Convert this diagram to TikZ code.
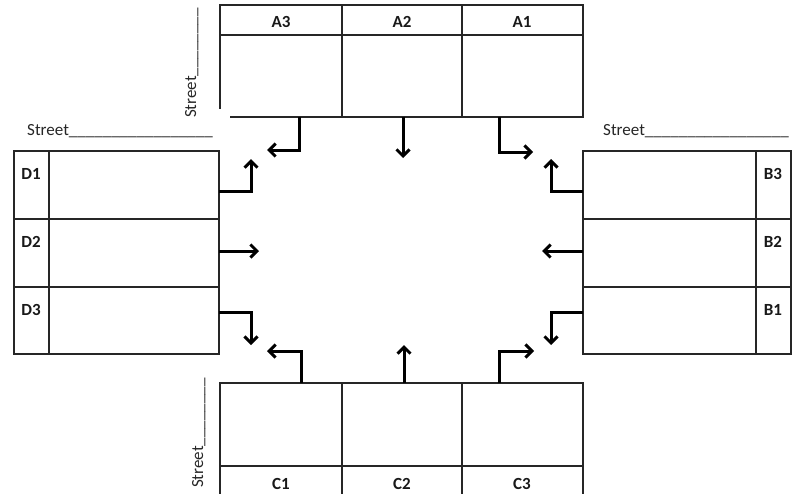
\documentclass[tikz,border=0pt]{standalone}
\usepackage{fontspec}
\setmainfont{Carlito}
\usetikzlibrary{arrows.meta}

\begin{document}
\begin{tikzpicture}[x=1pt, y=-1pt,
  frame/.style={draw=black!85, line width=1.3pt},
  sz/.style 2 args={minimum width=#1, minimum height=#2},
  slot/.style={inner sep=0pt, outer sep=0pt, anchor=north west},
  cell/.style={slot, frame},
  lbl/.style={font=\bfseries\fontsize{17}{20}\selectfont, text=black!90, inner sep=0pt},
  street/.style={font=\fontsize{17}{20}\selectfont, text=black!85, inner sep=0pt},
  arr/.style={line width=3pt, line join=miter,
    -{Straight Barb[length=6.5pt, width=13pt]}}
]
\useasboundingbox (0,0) rectangle (794,493);
\clip (0,0) rectangle (794,493);

% ---- North block: A3 A2 A1 ----
\node[cell, sz={122}{30}] (a3h) at (220,5) {};
\node[cell, sz={120}{30}] (a2h) at (342,5) {};
\node[cell, sz={121}{30}] (a1h) at (462,5) {};
\node[slot, sz={122}{82}] (a3) at (220,35) {};
\node[slot, sz={120}{82}] (a2) at (342,35) {};
\node[slot, sz={121}{82}] (a1) at (462,35) {};
\draw[frame] (a3.north west) -- ([yshift=8pt]a3.south west);
\draw[frame] ([xshift=10pt]a3.south west) -- (a1.south east) -- (a1.north east);
\draw[frame] (a3.north east) -- (a3.south east)
             (a2.north east) -- (a2.south east);
\node[lbl] (a3t) at (281,22) {A3};
\node[lbl] (a2t) at (402,22) {A2};
\node[lbl] (a1t) at (522,22) {A1};

% ---- South block: C1 C2 C3 ----
\node[cell, sz={122}{83}] (c1) at (220,383) {};
\node[cell, sz={120}{83}] (c2) at (342,383) {};
\node[cell, sz={121}{83}] (c3) at (462,383) {};
\node[cell, sz={122}{40}] (c1h) at (220,466) {};
\node[cell, sz={120}{40}] (c2h) at (342,466) {};
\node[cell, sz={121}{40}] (c3h) at (462,466) {};
\node[lbl] (c1t) at (281,484) {C1};
\node[lbl] (c2t) at (402,484) {C2};
\node[lbl] (c3t) at (522,484) {C3};

% ---- West block: D1 D2 D3 ----
\node[cell, sz={35}{68}]  (d1h) at (14,151) {};
\node[cell, sz={170}{68}] (d1)  at (49,151) {};
\node[cell, sz={35}{68}]  (d2h) at (14,219) {};
\node[cell, sz={170}{68}] (d2)  at (49,219) {};
\node[cell, sz={35}{67}]  (d3h) at (14,287) {};
\node[cell, sz={170}{67}] (d3)  at (49,287) {};
\node[lbl] (d1t) at (31,174) {D1};
\node[lbl] (d2t) at (31,242) {D2};
\node[lbl] (d3t) at (31,310) {D3};

% ---- East block: B3 B2 B1 ----
\node[cell, sz={173}{68}] (b3)  at (583,151) {};
\node[cell, sz={35}{68}]  (b3h) at (756,151) {};
\node[cell, sz={173}{68}] (b2)  at (583,219) {};
\node[cell, sz={35}{68}]  (b2h) at (756,219) {};
\node[cell, sz={173}{67}] (b1)  at (583,287) {};
\node[cell, sz={35}{67}]  (b1h) at (756,287) {};
\node[lbl] (b3t) at (773,174) {B3};
\node[lbl] (b2t) at (773,242) {B2};
\node[lbl] (b1t) at (773,310) {B1};

% ---- Street name blanks ----
\node[street, anchor=base west] (sW) at (27,135)
  {Street\_\_\_\_\_\_\_\_\_\_\_\_\_\_\_\_\_};
\node[street, anchor=base west] (sE) at (603,135)
  {Street\_\_\_\_\_\_\_\_\_\_\_\_\_\_\_\_\_};
\node[street, rotate=90, anchor=base west] (sN) at (196,118)
  {Street\_\_\_\_\_\_\_\_};
\node[street, rotate=90, anchor=base west] (sS) at (203,488)
  {Street\_\_\_\_\_\_\_\_};

% ---- Turning movements ----
\coordinate (tA3) at (267,150);
\coordinate (tA2) at (403,158);
\coordinate (tA1) at (533,152);
\coordinate (tC1) at (267,351);
\coordinate (tC2) at (404,345);
\coordinate (tC3) at (534,351);
\coordinate (tD1) at (251,159);
\coordinate (tD2) at (259,251);
\coordinate (tD3) at (251,345);
\coordinate (tB3) at (551,159);
\coordinate (tB2) at (542,251);
\coordinate (tB1) at (551,345);

\draw[arr] ([xshift=79pt]a3.south west) |- (tA3);
\draw[arr] (tA2 |- a2.south) -- (tA2);
\draw[arr] ([xshift=37pt]a1.south west) |- (tA1);

\draw[arr] ([xshift=81pt]c1.north west) |- (tC1);
\draw[arr] (tC2 |- c2.north) -- (tC2);
\draw[arr] ([xshift=37pt]c3.north west) |- (tC3);

\draw[arr] ([yshift=-40pt]d1.north east) -| (tD1);
\draw[arr] (d2.east |- tD2) -- (tD2);
\draw[arr] ([yshift=-25pt]d3.north east) -| (tD3);

\draw[arr] ([yshift=-40pt]b3.north west) -| (tB3);
\draw[arr] (b2.west |- tB2) -- (tB2);
\draw[arr] ([yshift=-25pt]b1.north west) -| (tB1);
\end{tikzpicture}
\end{document}
